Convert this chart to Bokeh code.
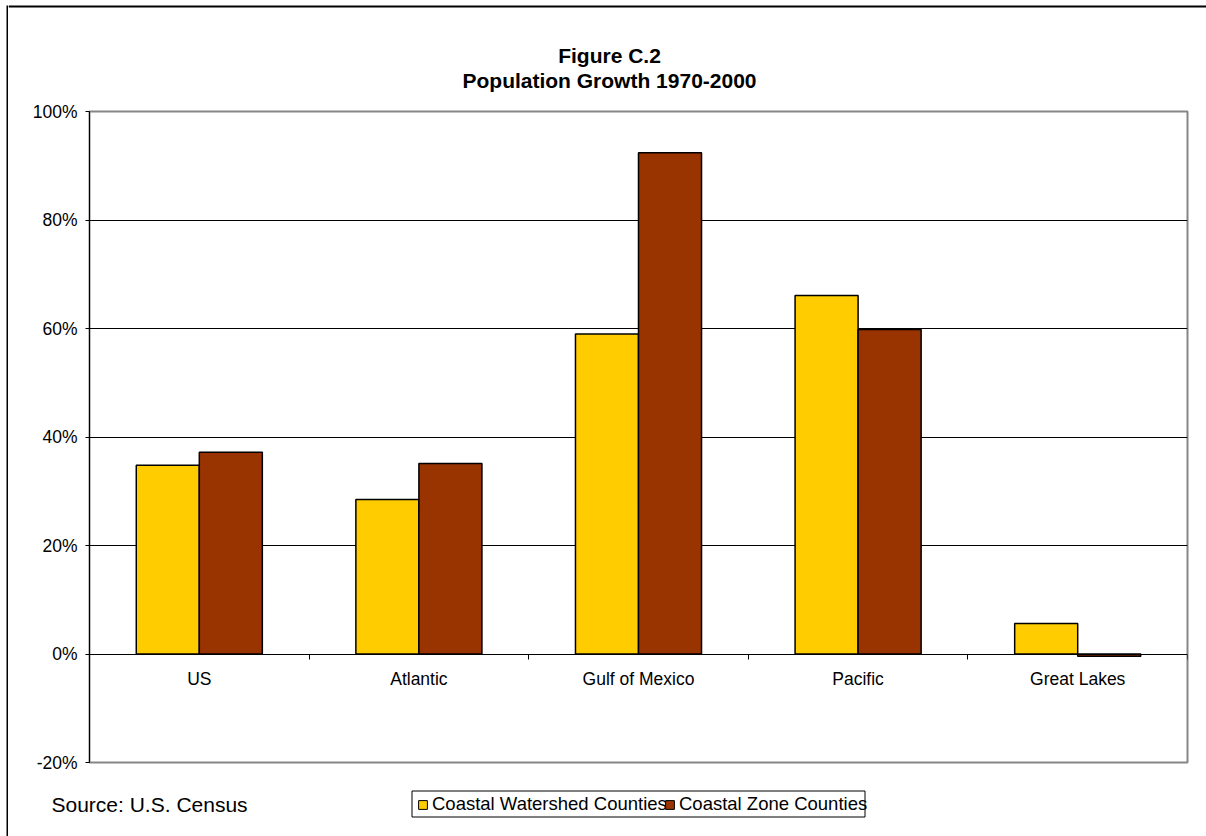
from bokeh.plotting import figure
from bokeh.layouts import column, row
from bokeh.models import (ColumnDataSource, Range1d, FixedTicker, PrintfTickFormatter,
                          Legend, LegendItem, Label, BoxAnnotation)
from bokeh.transform import dodge
from bokeh.embed import file_html
from bokeh.resources import INLINE

# Population growth 1970-2000, percent
regions = ["US", "Atlantic", "Gulf of Mexico", "Pacific", "Great Lakes"]
watershed = [34.8, 28.5, 59.0, 66.1, 5.6]
zone = [37.2, 35.1, 92.4, 59.8, -0.4]
y_ticks = [-20, 0, 20, 40, 60, 80, 100]
series_names = ["Coastal Watershed Counties", "Coastal Zone Counties"]

FONT = "Liberation Sans"
YELLOW = "#FFCC00"
BROWN = "#993300"
BAR_W = 0.287
EDGE = 8        # width of the left margin strip holding the chart border
W = 1198        # width of the chart column
HEAD_H, MAIN_H, FOOT_H = 95, 685, 56
TOTAL_H = HEAD_H + MAIN_H + FOOT_H


def strip(width, height):
    """A drawing strip whose frame fills the canvas; data units are pixels, y downwards."""
    f = figure(width=width, height=height, output_backend="svg", toolbar_location=None,
               x_range=Range1d(0, width), y_range=Range1d(height, 0), min_border=0,
               x_axis_location=None, y_axis_location=None, frame_align=False,
               background_fill_color="white", border_fill_color="white")
    f.outline_line_color = None
    f.grid.visible = False
    return f


def rule(fig, left, right, top, bottom):
    fig.add_layout(BoxAnnotation(left=left, right=right, top=top, bottom=bottom,
                                 fill_color="black", fill_alpha=1, line_color=None))


# ---- chart-area border: left edge strip and top rule ----
edge = strip(EDGE, TOTAL_H)
rule(edge, 6, 8, 5, TOTAL_H)

# ---- title strip ----
head = strip(W, HEAD_H)
rule(head, 0, W, 5, 7)
for txt, yy in [("Figure C.2", 54.5), ("Population Growth 1970-2000", 80)]:
    head.add_layout(Label(x=601, y=yy, text=txt,
                          text_font=FONT, text_font_size="21px", text_font_style="bold",
                          text_align="center", text_baseline="alphabetic", text_color="black"))

# ---- main chart ----
centers = [i + 0.5 for i in range(len(regions))]
bounds = list(range(len(regions) + 1))
src = ColumnDataSource(dict(x=centers, watershed=watershed, zone=zone))

p = figure(width=W, height=MAIN_H, output_backend="svg", toolbar_location=None,
           x_range=Range1d(0, len(regions)), y_range=Range1d(y_ticks[0], y_ticks[-1]),
           min_border_left=81, min_border_right=W - 1179, min_border_top=16, min_border_bottom=18,
           frame_align=False, background_fill_color="white", border_fill_color="white")
p.outline_line_color = "#868686"
p.outline_line_width = 2

yax = p.yaxis[0]
yax.ticker = FixedTicker(ticks=y_ticks)
yax.formatter = PrintfTickFormatter(format="%d%%")
yax.axis_line_color = "black"
yax.major_tick_line_color = "black"
yax.major_tick_in = 0
yax.major_tick_out = 4
yax.minor_tick_line_color = None
yax.major_label_standoff = 8
yax.major_label_text_font = FONT
yax.major_label_text_font_size = "17.5px"
yax.major_label_text_color = "black"

# category axis along zero, ticks on the category boundaries
xax = p.xaxis[0]
xax.fixed_location = 0
xax.ticker = FixedTicker(ticks=centers, minor_ticks=bounds)
xax.major_label_overrides = {c: r for c, r in zip(centers, regions)}
xax.axis_line_color = "black"
xax.major_tick_line_color = None
xax.major_tick_in = 0
xax.major_tick_out = 0
xax.minor_tick_line_color = "black"
xax.minor_tick_in = 0
xax.minor_tick_out = 5
xax.major_label_standoff = 10
xax.major_label_text_font = FONT
xax.major_label_text_font_size = "17.5px"
xax.major_label_text_color = "black"

p.xgrid.visible = False
p.ygrid.ticker = FixedTicker(ticks=[t for t in y_ticks if 0 < t < y_ticks[-1]])
p.ygrid.grid_line_color = "black"
p.ygrid.grid_line_width = 1

bar_style = dict(source=src, width=BAR_W, line_color="black", line_width=1.5)
p.vbar(x=dodge("x", -BAR_W / 2, range=p.x_range), top="watershed", fill_color=YELLOW, **bar_style)
p.vbar(x=dodge("x", BAR_W / 2, range=p.x_range), top="zone", fill_color=BROWN, **bar_style)

# ---- footer: source note and legend ----
foot = strip(W, FOOT_H)
foot.add_layout(Label(x=43, y=24, text="Source: U.S. Census",
                      text_font=FONT, text_font_size="21px", text_align="left",
                      text_baseline="alphabetic", text_color="black"))

# legend frame
foot.add_layout(BoxAnnotation(left=403.5, right=856.5, top=10.5, bottom=36.5,
                              fill_color="white", fill_alpha=1,
                              line_color="black", line_width=1, line_alpha=1))

# hidden copies of the series give the legend its swatches
keys = [foot.vbar(x="x", top=col, width=BAR_W, source=src, fill_color=c,
                  line_color="black", line_width=1, visible=False)
        for col, c in (("watershed", YELLOW), ("zone", BROWN))]

# legend y is the distance from the strip's bottom edge to the legend's bottom
for name, r, lx in zip(series_names, keys, (409, 656)):
    foot.add_layout(Legend(items=[LegendItem(label=name, renderers=[r])],
                           location=(lx, FOOT_H - 35), orientation="horizontal",
                           glyph_width=11, glyph_height=11, label_standoff=4,
                           padding=0, margin=0, label_height=22,
                           label_text_font=FONT, label_text_font_size="18.5px",
                           label_text_color="black",
                           border_line_color=None, background_fill_alpha=0,
                           inactive_fill_alpha=0), "center")

page = row(edge, column(head, p, foot, spacing=0), spacing=0)

open("out.html", "w").write(file_html(page, INLINE))
